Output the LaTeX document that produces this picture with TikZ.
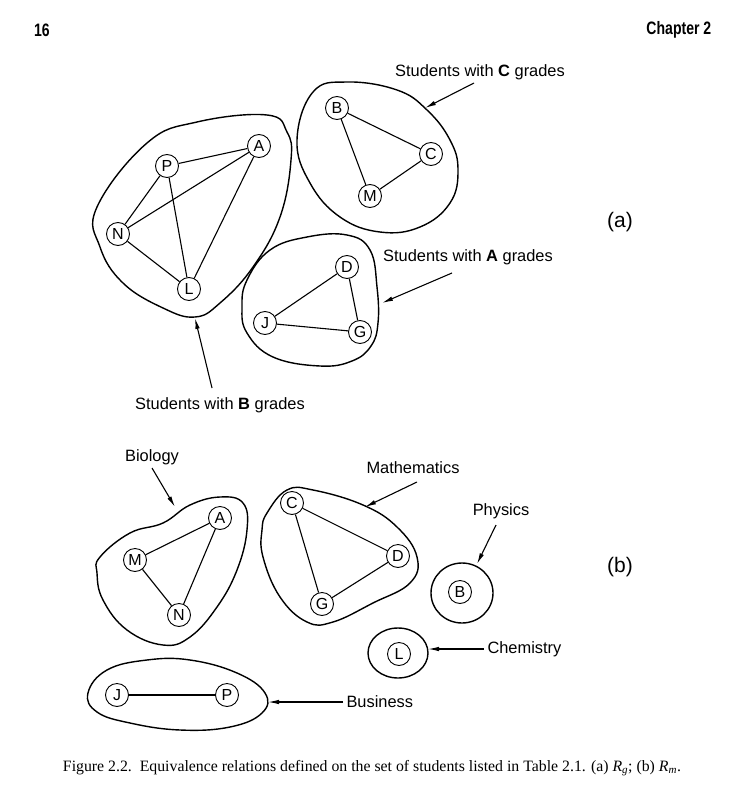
\documentclass[tikz,border=0pt]{standalone}
\usepackage{fontspec}
\setmainfont{Liberation Serif}
\setsansfont{Liberation Sans}
\usetikzlibrary{arrows.meta}

\begin{document}
\begin{tikzpicture}[x=1pt, y=-1pt, >={Latex[length=11pt, width=4.5pt]},
    student/.style={circle, draw, line width=0.9pt, minimum size=23pt,
        inner sep=0pt, font=\sffamily\fontsize{16}{16}\selectfont},
    tie/.style={line width=1.1pt},
    group/.style={line width=1.4pt},
    pointer/.style={->, line width=1.1pt},
    tag/.style={font=\sffamily\fontsize{16.4}{18}\selectfont}]
    % White page so the margins stay as in the book
    \fill[white] (0,0) rectangle (741,792);
    \useasboundingbox (0,0) rectangle (741,792);

    % Running head
    \node[font=\sffamily\bfseries\fontsize{18}{18}\selectfont, xscale=0.78] (pageno) at (42,30) {16};
    \node[font=\sffamily\bfseries\fontsize{18}{18}\selectfont, xscale=0.78, anchor=east] (chap) at (714,30) {Chapter 2};

    % ---------- (a) grades ----------
    \node[student] (aP) at (167,166) {P};
    \node[student] (aA) at (259,146) {A};
    \node[student] (aN) at (118,234) {N};
    \node[student] (aL) at (189,289) {L};
    \node[student] (aB) at (337,108) {B};
    \node[student] (aC) at (431,154) {C};
    \node[student] (aM) at (370,196) {M};
    \node[student] (aD) at (347,267) {D};
    \node[student] (aJ) at (265,323) {J};
    \node[student] (aG) at (360,332) {G};

    \draw[tie] (aP) -- (aA);
    \draw[tie] (aP) -- (aN);
    \draw[tie] (aP) -- (aL);
    \draw[tie] (aN) -- (aA);
    \draw[tie] (aN) -- (aL);
    \draw[tie] (aL) -- (aA);
    \draw[tie] (aB) -- (aC);
    \draw[tie] (aB) -- (aM);
    \draw[tie] (aM) -- (aC);
    \draw[tie] (aD) -- (aJ);
    \draw[tie] (aD) -- (aG);
    \draw[tie] (aJ) -- (aG);

    % Classes
    \draw[group] plot[smooth cycle, tension=0.7] coordinates {(97,207) (147,143) (197,122) (267,115) (287,132) (291,160) (280,217) (253,267) (220,303) (195,317) (163,308) (123,283) (100,247)};
    \draw[group] plot[smooth cycle, tension=0.7] coordinates {(313,92) (347,82) (397,90) (427,110) (450,140) (458,170) (450,203) (420,227) (380,232) (340,217) (310,183) (297,140)};
    \draw[group] plot[smooth cycle, tension=0.7] coordinates {(247,280) (270,250) (307,237) (347,235) (370,250) (377,287) (378,323) (371,346) (352,361) (320,366) (273,357) (247,333) (242,307)};

    % Labels
    \node[tag] (gradeC) at (480,72) {Students with \textbf{C} grades};
    \node[tag] (gradeA) at (468,257) {Students with \textbf{A} grades};
    \node[tag] (gradeB) at (220,405) {Students with \textbf{B} grades};
    \coordinate (tipC) at (425,108);
    \coordinate (tipA) at (382,303);
    \coordinate (tipB) at (195,318);
    \draw[pointer] (474,83) -- (tipC);
    \draw[pointer] (452,273) -- (tipA);
    \draw[pointer] (212,388) -- (tipB);

    \node[font=\sffamily\fontsize{21}{21}\selectfont] (parta) at (620,222) {(a)};

    % ---------- (b) majors ----------
    \node[student] (bM) at (135,560) {M};
    \node[student] (bA) at (220,518) {A};
    \node[student] (bN) at (179,615) {N};
    \node[student] (bC) at (292,503) {C};
    \node[student] (bD) at (398,556) {D};
    \node[student] (bG) at (322,604) {G};
    \node[student] (bB) at (460,592) {B};
    \node[student] (bL) at (399,654) {L};
    \node[student] (bJ) at (117,695) {J};
    \node[student] (bP) at (227,695) {P};

    \draw[tie] (bM) -- (bA);
    \draw[tie] (bM) -- (bN);
    \draw[tie] (bN) -- (bA);
    \draw[tie] (bC) -- (bD);
    \draw[tie] (bC) -- (bG);
    \draw[tie] (bG) -- (bD);
    \draw[tie] (bJ) -- (bP);

    % Classes
    \draw[group] plot[smooth cycle, tension=0.7] coordinates {(100,557) (130,533) (163,523) (190,505) (220,497) (243,503) (247,530) (237,570) (217,607) (190,637) (163,645) (127,630) (103,600) (97,573)};
    \draw[group] plot[smooth cycle, tension=0.7] coordinates {(267,513) (287,490) (313,490) (363,505) (397,527) (417,557) (410,583) (373,603) (333,622) (307,622) (280,597) (263,557) (262,530)};
    \draw[group] (462,593) ellipse[x radius=31, y radius=30];
    \draw[group] (398,653) ellipse[x radius=30, y radius=25];
    \draw[group] plot[smooth cycle, tension=0.7] coordinates {(88,693) (107,670) (147,660) (190,660) (237,673) (265,693) (262,713) (230,727) (180,730) (130,723) (97,712)};

    % Labels
    \node[tag] (bio) at (152,457) {Biology};
    \node[tag] (math) at (413,468) {Mathematics};
    \node[tag] (phys) at (501,511) {Physics};
    \node[tag, anchor=west] (chem) at (484,649) {Chemistry};
    \node[tag, anchor=west] (bus) at (343,702) {Business};
    \coordinate (tipBio) at (175,507);
    \coordinate (tipMath) at (365,507);
    \coordinate (tipPhys) at (477,564);
    \coordinate (tipChem) at (428,649);
    \coordinate (tipBus) at (268,702);
    \draw[pointer] (152,468) -- (tipBio);
    \draw[pointer] (417,482) -- (tipMath);
    \draw[pointer] (496,525) -- (tipPhys);
    \draw[pointer] (chem.west) -- (tipChem);
    \draw[pointer] (bus.west) -- (tipBus);

    \node[font=\sffamily\fontsize{21}{21}\selectfont] (partb) at (620,567) {(b)};

    % Caption
    \node[font=\fontsize{15.8}{18}\selectfont] (caption) at (372,768)
        {Figure 2.2.\ \ Equivalence relations defined on the set of students listed in Table 2.1. (a) \textit{R}\textsubscript{\textit{g}}; (b) \textit{R}\textsubscript{\textit{m}}.};
\end{tikzpicture}
\end{document}
